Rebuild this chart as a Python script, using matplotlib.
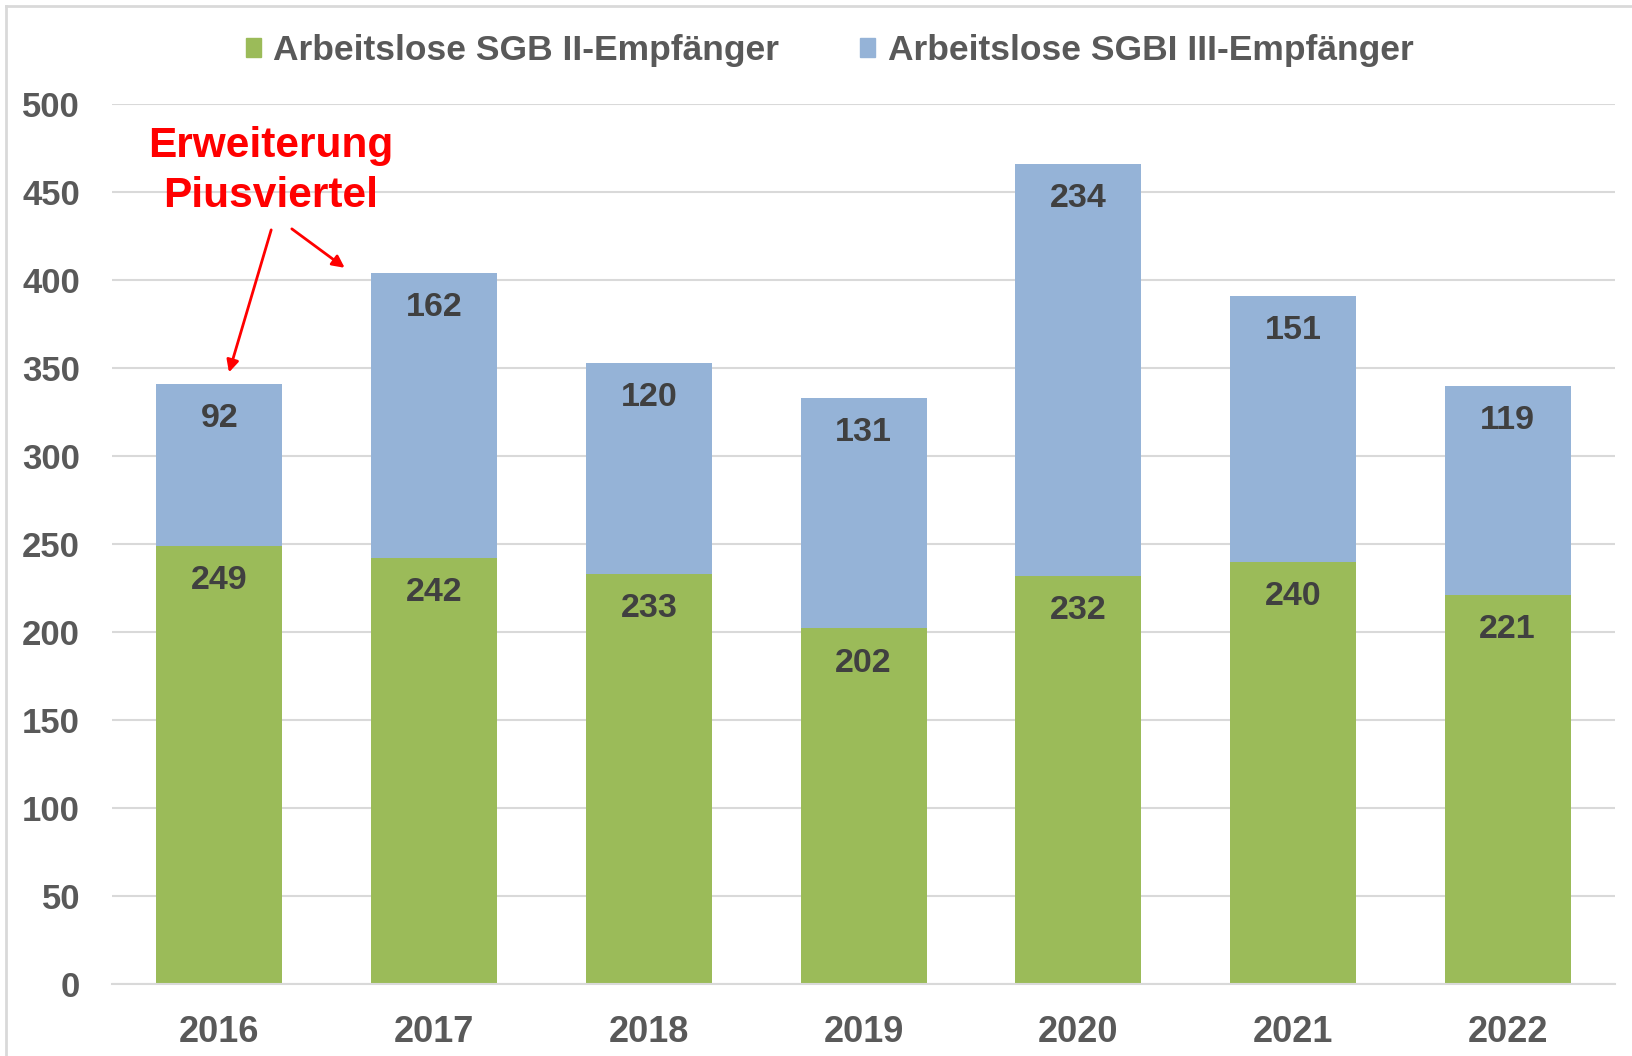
import numpy as np
import matplotlib
matplotlib.use("Agg")
import matplotlib.pyplot as plt
from matplotlib.patches import Patch
from matplotlib.lines import Line2D

plt.rcParams['font.family'] = ['Liberation Sans', 'DejaVu Sans']
plt.rcParams['font.weight'] = 'bold'

years = ["2016", "2017", "2018", "2019", "2020", "2021", "2022"]
sgb2 = [249, 242, 233, 202, 232, 240, 221]
sgb3 = [92, 162, 120, 131, 234, 151, 119]
labels = ["Arbeitslose SGB II-Empfänger", "Arbeitslose SGBI III-Empfänger"]
green = "#9BBB59"
blue = "#95B3D7"
grey = "#595959"
dark = "#404040"

fig = plt.figure(figsize=(16.33, 10.56), dpi=100)
ax = fig.add_axes([0.0686, 0.0682, 0.9204, 0.8333])

x = np.arange(len(years))
w = 0.587
ax.bar(x, sgb2, w, color=green, zorder=2)
ax.bar(x, sgb3, w, bottom=sgb2, color=blue, zorder=2)

# Datenbeschriftungen (innen oben)
for i in range(len(years)):
    ax.annotate(str(sgb2[i]), (x[i], sgb2[i]), xytext=(0, -25), textcoords="offset points",
                ha="center", va="center", fontsize=24.5, fontweight="bold", color=dark)
    top = sgb2[i] + sgb3[i]
    ax.annotate(str(sgb3[i]), (x[i], top), xytext=(0, -25), textcoords="offset points",
                ha="center", va="center", fontsize=24.5, fontweight="bold", color=dark)

ax.set_xlim(-0.5, len(years) - 0.5)
ax.set_ylim(0, 500)
ax.set_yticks(np.arange(0, 501, 50))
ax.set_xticks(x)
ax.set_xticklabels(years)
ax.tick_params(axis="both", length=0, labelcolor=grey)
ax.tick_params(axis="x", pad=22, labelsize=26)
ax.tick_params(axis="y", pad=23, labelsize=25)
for lab in ax.get_xticklabels() + ax.get_yticklabels():
    lab.set_fontweight("bold")
ax.grid(axis="y", color="#D9D9D9", lw=1.5, zorder=0)
for s in ["top", "right", "left"]:
    ax.spines[s].set_visible(False)
ax.spines["bottom"].set_color("#D9D9D9")
ax.spines["bottom"].set_linewidth(1.5)

# Annotation
ax.text(0.24, 462, "Erweiterung\nPiusviertel", ha="center", va="center", fontsize=30.5,
        fontweight="bold", color="#FF0000", linespacing=1.3)
ax.annotate("", xy=(0.041, 346), xytext=(0.245, 430),
            arrowprops=dict(arrowstyle="-|>", color="#FF0000", lw=2, mutation_scale=18))
ax.annotate("", xy=(0.594, 406), xytext=(0.327, 430),
            arrowprops=dict(arrowstyle="-|>", color="#FF0000", lw=2, mutation_scale=18))

# Legende
handles = [Patch(color=green), Patch(color=blue)]
fig.legend(handles, labels, loc="center", bbox_to_anchor=(0.508, 0.952), ncol=2,
           frameon=False, handlelength=0.42, handleheight=0.42,
           handletextpad=0.35, columnspacing=2.3, labelcolor=grey,
           prop={"weight": "bold", "size": 25.5})

# Rahmen oben/links
fig.add_artist(Line2D([0.0037, 1.0], [0.9945, 0.9945], color="#D9D9D9", lw=2, transform=fig.transFigure))
fig.add_artist(Line2D([0.0037, 0.0037], [0.0, 0.9945], color="#D9D9D9", lw=2, transform=fig.transFigure))

fig.savefig("out.png", dpi=100)
